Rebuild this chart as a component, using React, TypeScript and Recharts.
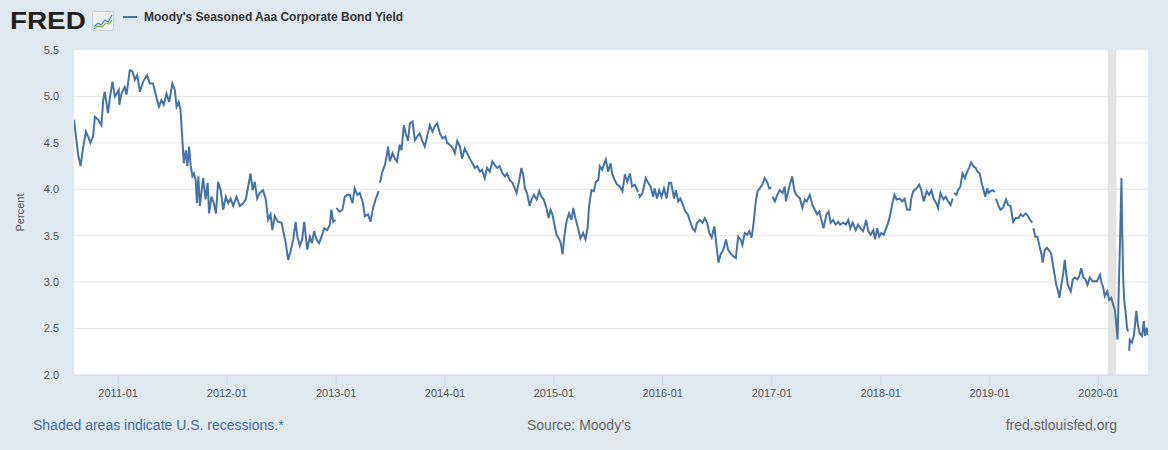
import {
  CartesianGrid,
  Legend,
  Line,
  LineChart,
  ReferenceArea,
  XAxis,
  YAxis,
} from "recharts";

// [month-day, percent]; null = market holiday (FRED leaves a gap)
type Obs = [string, number | null];

const y2010: Obs[] = [
  ["08-06", 4.75], ["08-14", 4.53], ["08-20", 4.37], ["08-28", 4.25], ["09-06", 4.46],
  ["09-15", 4.62], ["09-22", 4.57], ["09-30", 4.5], ["10-09", 4.57], ["10-15", 4.78],
  ["10-26", 4.75], ["11-06", 4.69], ["11-12", 4.96], ["11-17", 5.05], ["11-28", 4.82],
  ["12-04", 4.98], ["12-13", 5.16], ["12-21", 5.0],
];

const y2011: Obs[] = [
  ["01-03", 5.07], ["01-05", 4.91], ["01-12", 5.03], ["01-23", 5.1], ["01-29", 5.02],
  ["02-09", 5.28], ["02-18", 5.27], ["02-26", 5.18], ["03-06", 5.23], ["03-15", 5.05],
  ["03-26", 5.16], ["04-08", 5.23], ["04-17", 5.14], ["04-28", 5.14], ["05-10", 4.98],
  ["05-18", 4.89], ["05-26", 4.96], ["06-03", 4.91], ["06-12", 5.03], ["06-21", 4.94],
  ["07-02", 5.14], ["07-10", 5.07], ["07-16", 4.89], ["07-23", 4.94], ["07-29", 4.86],
  ["08-05", 4.5], ["08-09", 4.28], ["08-16", 4.42], ["08-21", 4.25], ["08-27", 4.46],
  ["09-01", 4.26], ["09-07", 4.14], ["09-12", 4.17], ["09-18", 4.1], ["09-22", 3.85],
  ["09-27", 4.14], ["10-02", 3.82], ["10-13", 4.12], ["10-21", 3.89], ["10-28", 4.07],
  ["11-02", 3.74], ["11-10", 3.92], ["11-18", 3.85], ["11-25", 3.74], ["12-02", 4.08],
  ["12-11", 3.99], ["12-19", 3.78], ["12-28", 3.92],
];

const y2012: Obs[] = [
  ["01-05", 3.85], ["01-13", 3.9], ["01-22", 3.82], ["02-02", 3.92], ["02-13", 3.82],
  ["02-24", 3.85], ["03-04", 3.89], ["03-12", 4.03], ["03-20", 4.17], ["03-27", 3.99],
  ["04-03", 4.08], ["04-11", 3.9], ["04-20", 3.96], ["05-01", 3.99], ["05-10", 3.89],
  ["05-18", 3.67], ["05-26", 3.73], ["06-01", 3.56], ["06-09", 3.71], ["06-20", 3.65],
  ["07-02", 3.64], ["07-09", 3.53], ["07-16", 3.42], ["07-24", 3.24], ["08-01", 3.33],
  ["08-10", 3.46], ["08-18", 3.65], ["08-24", 3.49], ["09-01", 3.39], ["09-09", 3.46],
  ["09-16", 3.65], ["09-26", 3.35], ["10-05", 3.49], ["10-12", 3.42], ["10-19", 3.55],
  ["10-27", 3.46], ["11-05", 3.42], ["11-13", 3.49], ["11-22", 3.58], ["12-02", 3.56],
  ["12-11", 3.62], ["12-16", 3.78], ["12-22", 3.65], ["12-30", 3.67],
];

const y2013: Obs[] = [
  ["01-01", null], ["01-02", 3.8], ["01-13", 3.76], ["01-22", 3.78], ["01-30", 3.92],
  ["02-07", 3.94], ["02-16", 3.94], ["02-25", 3.85], ["03-04", 4.01], ["03-13", 3.94],
  ["03-21", 3.96], ["04-01", 3.85], ["04-07", 3.71], ["04-18", 3.73], ["04-26", 3.65],
  ["05-05", 3.8], ["05-14", 3.9], ["05-24", 3.98], ["05-27", null], ["05-28", 4.07],
  ["06-05", 4.19], ["06-13", 4.26], ["06-19", 4.35], ["06-24", 4.46], ["06-30", 4.3],
  ["07-09", 4.39], ["07-17", 4.33], ["07-24", 4.3], ["08-02", 4.48], ["08-08", 4.42],
  ["08-16", 4.69], ["08-23", 4.59], ["08-30", 4.52], ["09-05", 4.71], ["09-14", 4.73],
  ["09-22", 4.53], ["09-30", 4.57], ["10-08", 4.6], ["10-17", 4.52], ["10-25", 4.46],
  ["11-02", 4.57], ["11-11", 4.69], ["11-20", 4.62], ["11-28", 4.68], ["12-06", 4.71],
  ["12-15", 4.6], ["12-24", 4.55],
];

const y2014: Obs[] = [
  ["01-02", 4.57], ["01-08", 4.5], ["01-17", 4.48], ["01-28", 4.44], ["02-03", 4.39],
  ["02-11", 4.52], ["02-20", 4.46], ["02-27", 4.33], ["03-08", 4.44], ["03-16", 4.39],
  ["03-25", 4.33], ["04-03", 4.28], ["04-11", 4.23], ["04-19", 4.25], ["04-28", 4.19],
  ["05-05", 4.21], ["05-14", 4.12], ["05-22", 4.23], ["05-31", 4.19], ["06-09", 4.3],
  ["06-17", 4.26], ["06-25", 4.23], ["07-03", 4.25], ["07-13", 4.17], ["07-21", 4.14],
  ["07-28", 4.17], ["08-06", 4.1], ["08-15", 4.07], ["08-23", 4.01], ["08-29", 3.96],
  ["09-07", 4.1], ["09-14", 4.23], ["09-20", 4.16], ["09-26", 4.01], ["10-03", 3.96],
  ["10-12", 3.82], ["10-18", 3.89], ["10-26", 3.94], ["11-04", 3.89], ["11-13", 3.98],
  ["11-20", 3.92], ["11-28", 3.89], ["12-07", 3.8], ["12-14", 3.69], ["12-21", 3.78],
  ["12-27", 3.73],
];

const y2015: Obs[] = [
  ["01-04", 3.6], ["01-10", 3.51], ["01-19", 3.46], ["01-24", 3.42], ["01-30", 3.3],
  ["02-05", 3.49], ["02-12", 3.65], ["02-21", 3.74], ["03-01", 3.67], ["03-07", 3.8],
  ["03-14", 3.69], ["03-23", 3.58], ["03-31", 3.47], ["04-09", 3.53], ["04-17", 3.46],
  ["04-24", 3.58], ["04-29", 3.82], ["05-07", 3.99], ["05-15", 3.98], ["05-22", 4.08],
  ["05-30", 4.1], ["06-04", 4.25], ["06-12", 4.21], ["06-17", 4.26], ["06-24", 4.32],
  ["07-02", 4.19], ["07-10", 4.28], ["07-16", 4.16], ["07-24", 4.1], ["08-01", 4.05],
  ["08-10", 4.03], ["08-19", 3.98], ["08-27", 4.16], ["09-04", 4.08], ["09-13", 4.17],
  ["09-20", 4.03], ["09-29", 4.05], ["10-08", 3.99], ["10-09", 3.97], ["10-12", null],
  ["10-13", 3.95], ["10-16", 3.92], ["10-25", 3.96], ["11-05", 4.12], ["11-13", 4.07],
  ["11-21", 4.03], ["11-30", 3.92], ["12-05", 4.01], ["12-13", 3.9], ["12-20", 3.99],
  ["12-28", 3.92],
];

const y2016: Obs[] = [
  ["01-05", 4.01], ["01-14", 3.9], ["01-22", 4.07], ["01-29", 4.07], ["02-08", 3.9],
  ["02-14", 3.99], ["02-22", 3.87], ["02-29", 3.9], ["03-09", 3.83], ["03-17", 3.76],
  ["03-25", 3.73], ["04-03", 3.64], ["04-10", 3.58], ["04-18", 3.55], ["04-25", 3.64],
  ["05-04", 3.67], ["05-13", 3.64], ["05-21", 3.69], ["05-29", 3.64], ["06-05", 3.53],
  ["06-13", 3.48], ["06-22", 3.6], ["06-30", 3.37], ["07-06", 3.21], ["07-13", 3.3],
  ["07-22", 3.35], ["07-31", 3.46], ["08-07", 3.35], ["08-15", 3.31], ["08-24", 3.28],
  ["09-02", 3.26], ["09-10", 3.49], ["09-18", 3.46], ["09-24", 3.4], ["10-02", 3.53],
  ["10-10", 3.51], ["10-17", 3.55], ["10-25", 3.48], ["11-01", 3.65], ["11-08", 3.87],
  ["11-14", 3.98], ["11-21", 4.01], ["11-30", 4.05], ["12-08", 4.12], ["12-16", 4.08],
  ["12-23", 4.01], ["12-30", 4.02],
];

const y2017: Obs[] = [
  ["01-02", null], ["01-03", 3.92], ["01-11", 3.87], ["01-19", 3.94], ["01-27", 3.99],
  ["02-06", 3.96], ["02-13", 4.03], ["02-17", 3.87], ["02-27", 4.01], ["03-10", 4.14],
  ["03-17", 3.99], ["03-24", 3.94], ["04-05", 3.9], ["04-13", 3.8], ["04-21", 3.89],
  ["04-28", 3.87], ["05-08", 3.94], ["05-17", 3.83], ["05-25", 3.78], ["06-02", 3.73],
  ["06-09", 3.76], ["06-16", 3.67], ["06-23", 3.58], ["07-03", 3.73], ["07-10", 3.76],
  ["07-17", 3.64], ["07-25", 3.67], ["08-03", 3.62], ["08-11", 3.65], ["08-18", 3.62],
  ["08-28", 3.64], ["09-06", 3.62], ["09-14", 3.67], ["09-21", 3.58], ["09-29", 3.64],
  ["10-09", 3.56], ["10-17", 3.62], ["10-25", 3.58], ["11-03", 3.55], ["11-13", 3.67],
  ["11-20", 3.55], ["11-28", 3.51], ["12-07", 3.56], ["12-13", 3.46], ["12-20", 3.58],
  ["12-27", 3.49],
];

const y2018: Obs[] = [
  ["01-03", 3.53], ["01-11", 3.51], ["01-19", 3.58], ["01-26", 3.64], ["02-02", 3.73],
  ["02-09", 3.85], ["02-16", 3.94], ["02-23", 3.89], ["03-06", 3.9], ["03-14", 3.87],
  ["03-22", 3.9], ["03-30", 3.78], ["04-09", 3.78], ["04-13", 3.9], ["04-20", 3.98],
  ["05-01", 4.01], ["05-10", 4.05], ["05-17", 3.99], ["05-25", 3.87], ["06-04", 3.98],
  ["06-12", 3.94], ["06-20", 3.99], ["06-27", 3.9], ["07-06", 3.85], ["07-12", 3.8],
  ["07-20", 3.96], ["07-30", 3.89], ["08-07", 3.92], ["08-15", 3.87], ["08-23", 3.83],
  ["08-29", 3.89], ["08-31", 3.9], ["09-03", null], ["09-04", 3.96], ["09-12", 3.94],
  ["09-17", 3.99], ["09-25", 4.03], ["10-02", 4.17], ["10-10", 4.12], ["10-18", 4.19],
  ["10-24", 4.23], ["10-31", 4.29], ["11-07", 4.25], ["11-15", 4.23], ["11-21", 4.19],
  ["11-29", 4.17], ["12-05", 4.07], ["12-12", 3.99], ["12-17", 3.92], ["12-24", 4.01],
  ["12-28", 3.96],
];

const y2019: Obs[] = [
  ["01-04", 3.98], ["01-11", 3.99], ["01-15", 3.98], ["01-18", 3.97], ["01-21", null],
  ["01-22", 3.9], ["01-30", 3.83], ["02-06", 3.78], ["02-15", 3.8], ["02-25", 3.89],
  ["03-04", 3.83], ["03-12", 3.82], ["03-21", 3.65], ["03-29", 3.69], ["04-08", 3.69],
  ["04-15", 3.73], ["04-23", 3.71], ["05-02", 3.74], ["05-10", 3.71], ["05-17", 3.67],
  ["05-24", 3.64], ["05-27", null], ["05-28", 3.58], ["06-03", 3.49], ["06-10", 3.49],
  ["06-17", 3.39], ["06-24", 3.3], ["06-28", 3.21], ["07-05", 3.35], ["07-12", 3.37],
  ["07-22", 3.33], ["07-26", 3.31], ["08-02", 3.17], ["08-08", 3.06], ["08-13", 2.96],
  ["08-19", 2.9], ["08-23", 2.83], ["08-29", 2.96], ["09-05", 3.1], ["09-10", 3.24],
  ["09-16", 3.06], ["09-20", 2.97], ["09-30", 2.9], ["10-07", 3.03], ["10-14", 3.05],
  ["10-22", 3.03], ["10-28", 3.06], ["11-04", 3.15], ["11-11", 3.05], ["11-18", 3.03],
  ["11-25", 2.97], ["12-03", 3.05], ["12-12", 3.01], ["12-20", 3.01], ["12-27", 3.01],
];

const y2020: Obs[] = [
  ["01-06", 3.08], ["01-10", 3.01], ["01-17", 2.94], ["01-22", 2.85], ["01-30", 2.9],
  ["02-06", 2.81], ["02-13", 2.83], ["02-19", 2.76], ["02-25", 2.7], ["02-28", 2.6],
  ["03-05", 2.38], ["03-09", 2.92], ["03-11", 3.17], ["03-16", 3.82], ["03-18", 4.12],
  ["03-20", 3.64], ["03-24", 3.03], ["03-27", 2.81], ["04-01", 2.67], ["04-06", 2.5],
  ["04-09", 2.47], ["04-10", null], ["04-13", 2.26], ["04-15", 2.38], ["04-22", 2.35],
  ["04-29", 2.43], ["05-04", 2.6], ["05-07", 2.69], ["05-12", 2.54], ["05-18", 2.45],
  ["05-26", 2.42], ["06-01", 2.58], ["06-05", 2.42], ["06-11", 2.51], ["06-15", 2.43],
];

const years: [number, Obs[]][] = [
  [2010, y2010], [2011, y2011], [2012, y2012], [2013, y2013], [2014, y2014],
  [2015, y2015], [2016, y2016], [2017, y2017], [2018, y2018], [2019, y2019], [2020, y2020],
];

const tickYears = [2011, 2012, 2013, 2014, 2015, 2016, 2017, 2018, 2019, 2020];
const percentTicks = [2, 2.5, 3, 3.5, 4, 4.5, 5, 5.5];
const gridValues = [2.5, 3, 3.5, 4, 4.5, 5];
const dateRange = ["2010-08-06", "2020-06-15"];
const recession = ["2020-02-01", "2020-03-01"];

const SERIES_NAME = "Moody's Seasoned Aaa Corporate Bond Yield";
const LINE_COLOR = "#4572a7";
const FONT = "'Liberation Sans', Arial, Helvetica, sans-serif";

const utc = (d: string) => Date.parse(d + "T00:00:00Z");

const rows = years.flatMap(([year, obs]) =>
  obs.map(([md, v]) => ({ t: utc(`${year}-${md}`), aaa: v }))
);

function FredLogo() {
  return (
    <div style={{ position: "absolute", left: 10, top: 9, display: "flex", alignItems: "flex-start" }}>
      <span
        style={{
          display: "inline-block",
          fontSize: 24,
          lineHeight: "24px",
          fontWeight: 700,
          color: "#231f20",
          transform: "scaleX(1.16)",
          transformOrigin: "left center",
          width: 78,
        }}
      >
        FRED
      </span>
      <svg width={22} height={20} style={{ marginLeft: 4, marginTop: 2 }}>
        <rect x={0.5} y={0.5} width={21} height={19} rx={2} fill="#eef1f3" stroke="#c9d0d6" />
        <polyline points="2,16 6,12 9,14 13,9 16,11 20,4" fill="none" stroke="#5b87c5" strokeWidth={1.3} />
        <polyline points="2,18 6,15 10,16 14,12 17,13 20,9" fill="none" stroke="#8db350" strokeWidth={1.3} />
      </svg>
    </div>
  );
}

function LegendBox({ payload }: any) {
  return (
    <div style={{ display: "flex", alignItems: "center" }}>
      {(payload ?? []).map((item: any) => (
        <div key={item.value} style={{ display: "flex", alignItems: "center" }}>
          <span style={{ width: 14, height: 2, background: item.color, marginRight: 7 }} />
          <span style={{ fontSize: 12, fontWeight: 700, color: "#333", whiteSpace: "nowrap" }}>
            {item.value}
          </span>
        </div>
      ))}
    </div>
  );
}

export default function App() {
  return (
    <div
      style={{
        position: "absolute",
        left: 0,
        top: 0,
        width: 1168,
        height: 450,
        background: "#e1e9f0",
        fontFamily: FONT,
        overflow: "hidden",
      }}
    >
      <LineChart
        width={1168}
        height={450}
        data={rows}
        margin={{ top: 50, right: 20, bottom: 45, left: 0 }}
        style={{ fontFamily: FONT }}
      >
        <CartesianGrid vertical={false} stroke="#e6e6e6" fill="#ffffff" horizontalValues={gridValues} />
        <ReferenceArea
          x1={utc(recession[0])}
          x2={utc(recession[1])}
          fill="#e3e3e3"
          fillOpacity={1}
          stroke="none"
        />
        <XAxis
          dataKey="t"
          type="number"
          scale="time"
          domain={[utc(dateRange[0]), utc(dateRange[1])]}
          allowDataOverflow
          ticks={tickYears.map((y) => Date.UTC(y, 0, 1))}
          tickFormatter={(t: number) => `${new Date(t).getUTCFullYear()}-01`}
          tick={{ fill: "#555", fontSize: 11 }}
          axisLine={{ stroke: "#ccd6eb" }}
          tickLine={{ stroke: "#ccd6eb" }}
          tickSize={10}
          tickMargin={4}
          height={30}
        />
        <YAxis
          type="number"
          domain={[2, 5.5]}
          ticks={percentTicks}
          tickFormatter={(v: number) => v.toFixed(1)}
          tick={{ fill: "#555", fontSize: 11 }}
          axisLine={false}
          tickLine={false}
          tickSize={0}
          tickMargin={15}
          width={74}
          label={{
            value: "Percent",
            angle: -90,
            position: "center",
            dx: -17,
            fill: "#555",
            fontSize: 11,
          }}
        />
        <Legend
          layout="vertical"
          align="center"
          verticalAlign="middle"
          content={<LegendBox />}
          wrapperStyle={{ top: 10, left: 123, width: 320, height: 20 }}
        />
        <Line
          type="linear"
          dataKey="aaa"
          name={SERIES_NAME}
          stroke={LINE_COLOR}
          strokeWidth={2}
          dot={false}
          activeDot={false}
          connectNulls={false}
          isAnimationActive={false}
        />
      </LineChart>
      <FredLogo />
      <div style={{ position: "absolute", left: 33, top: 417, fontSize: 14, lineHeight: "16px", color: "#3c6ba5" }}>
        Shaded areas indicate U.S. recessions.*
      </div>
      <div style={{ position: "absolute", left: 527, top: 417, fontSize: 14, lineHeight: "16px", color: "#666" }}>
        Source: Moody’s
      </div>
      <div
        style={{
          position: "absolute",
          right: 51,
          top: 417,
          fontSize: 14,
          lineHeight: "16px",
          color: "#666",
          textAlign: "right",
        }}
      >
        fred.stlouisfed.org
      </div>
    </div>
  );
}
